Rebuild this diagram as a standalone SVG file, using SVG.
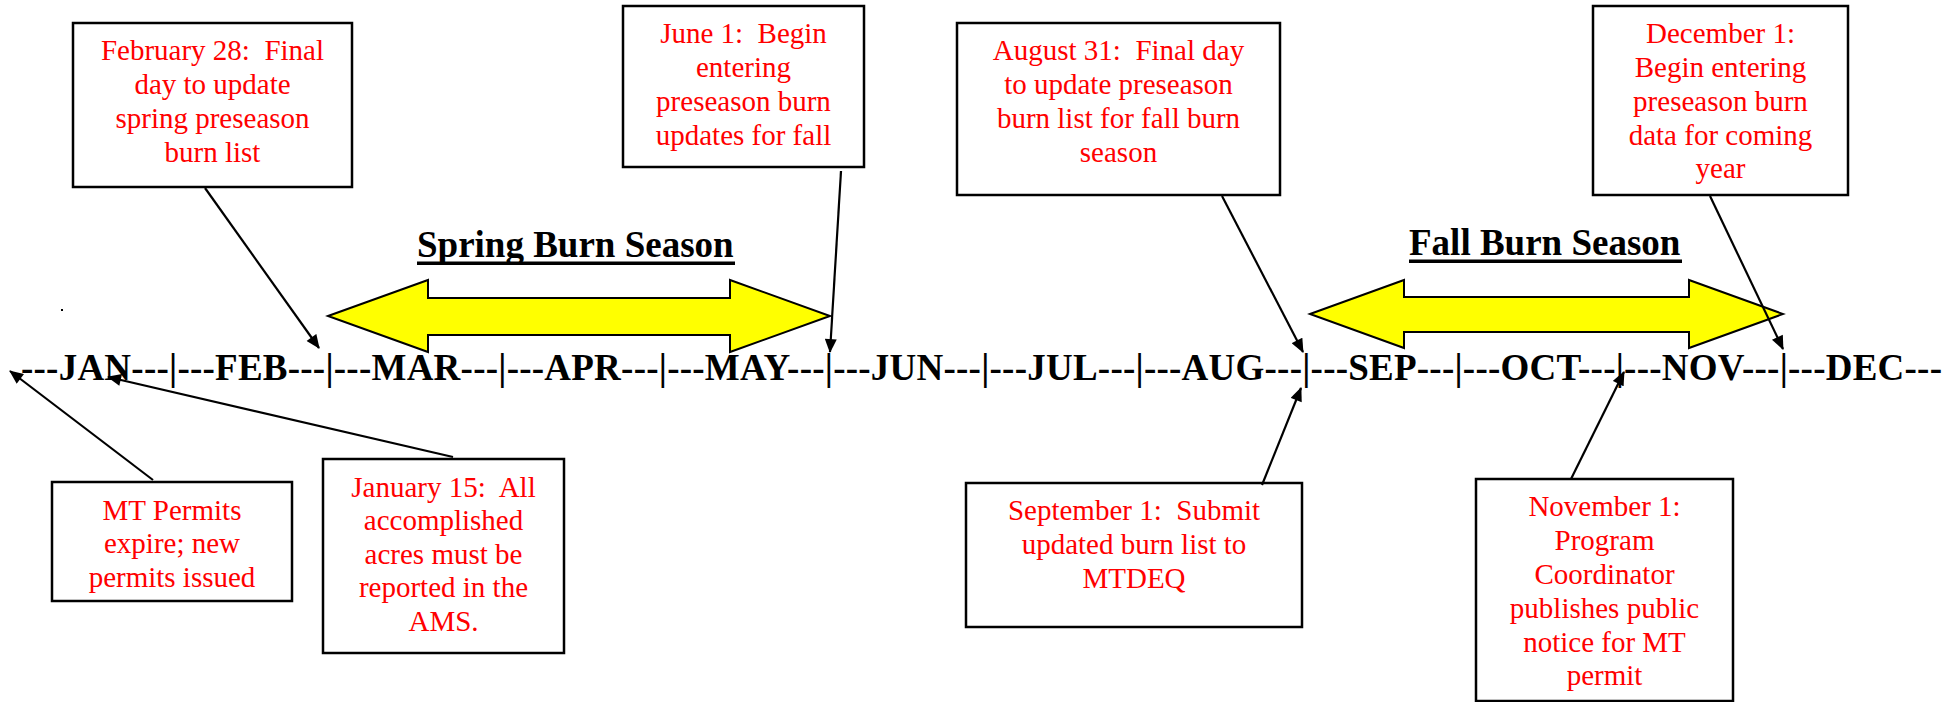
<svg xmlns="http://www.w3.org/2000/svg" width="1954" height="702" viewBox="0 0 1954 702">
  <style>
    .box { fill: #ffffff; stroke: #000000; stroke-width: 2.5; }
    .note { font-family: "Liberation Serif", "Times New Roman", serif; font-size: 29px; fill: #ff0000; text-anchor: middle; }
    .title { font-family: "Liberation Serif", "Times New Roman", serif; font-size: 37px; font-weight: bold; fill: #000000; }
    .season { fill: #ffff00; stroke: #000000; stroke-width: 2; stroke-linejoin: miter; }
    .conn { stroke: #000000; stroke-width: 2.2; fill: none; marker-end: url(#head); }
  </style>
  <defs>
    <marker id="head" viewBox="0 0 14 12" refX="13" refY="6" markerUnits="userSpaceOnUse" markerWidth="15" markerHeight="12" orient="auto">
      <path d="M0,0 L14,6 L0,12 z" fill="#000000"/>
    </marker>
  </defs>

  <rect width="1954" height="702" fill="#ffffff"/>

  <!-- month scale -->
  <text id="timeline" class="title" x="21" y="380" textLength="1921" lengthAdjust="spacing">---JAN---|---FEB---|---MAR---|---APR---|---MAY---|---JUN---|---JUL---|---AUG---|---SEP---|---OCT---|---NOV---|---DEC---</text>
  <rect x="61" y="309" width="2" height="2" fill="#000000"/>

  <!-- season spans -->
  <g id="spring-season">
    <polygon class="season" points="328,316 428,280 428,298 730,298 730,280 830,316 730,352 730,335 428,335 428,352"/>
    <text class="title" x="417" y="257">Spring Burn Season</text>
    <rect x="417" y="261.5" width="318" height="3.5" fill="#000000"/>
  </g>
  <g id="fall-season">
    <polygon class="season" points="1310,314 1404,280 1404,297 1689,297 1689,280 1783,314 1689,348 1689,332 1404,332 1404,348"/>
    <text class="title" x="1409" y="255">Fall Burn Season</text>
    <rect x="1409" y="259.5" width="273" height="3.5" fill="#000000"/>
  </g>

  <!-- milestone boxes -->
  <g id="feb28">
    <rect class="box" x="73" y="23" width="279" height="164"/>
    <text class="note"><tspan x="212.5" y="60">February 28:&#160; Final</tspan><tspan x="212.5" y="94">day to update</tspan><tspan x="212.5" y="128">spring preseason</tspan><tspan x="212.5" y="162">burn list</tspan></text>
  </g>
  <g id="jun1">
    <rect class="box" x="623" y="6" width="241" height="161"/>
    <text class="note"><tspan x="743.5" y="43">June 1:&#160; Begin</tspan><tspan x="743.5" y="77">entering</tspan><tspan x="743.5" y="111">preseason burn</tspan><tspan x="743.5" y="145">updates for fall</tspan></text>
  </g>
  <g id="aug31">
    <rect class="box" x="957" y="23" width="323" height="172"/>
    <text class="note"><tspan x="1118.5" y="60">August 31:&#160; Final day</tspan><tspan x="1118.5" y="94">to update preseason</tspan><tspan x="1118.5" y="128">burn list for fall burn</tspan><tspan x="1118.5" y="162">season</tspan></text>
  </g>
  <g id="dec1">
    <rect class="box" x="1593" y="6" width="255" height="189"/>
    <text class="note"><tspan x="1720.5" y="43">December 1:</tspan><tspan x="1720.5" y="77">Begin entering</tspan><tspan x="1720.5" y="111">preseason burn</tspan><tspan x="1720.5" y="145">data for coming</tspan><tspan x="1720.5" y="178">year</tspan></text>
  </g>
  <g id="jan1">
    <rect class="box" x="52" y="482" width="240" height="119"/>
    <text class="note"><tspan x="172" y="520">MT Permits</tspan><tspan x="172" y="553">expire; new</tspan><tspan x="172" y="587">permits issued</tspan></text>
  </g>
  <g id="jan15">
    <rect class="box" x="323" y="459" width="241" height="194"/>
    <text class="note"><tspan x="443.5" y="497">January 15:&#160; All</tspan><tspan x="443.5" y="530">accomplished</tspan><tspan x="443.5" y="564">acres must be</tspan><tspan x="443.5" y="597">reported in the</tspan><tspan x="443.5" y="631">AMS.</tspan></text>
  </g>
  <g id="sep1">
    <rect class="box" x="966" y="483" width="336" height="144"/>
    <text class="note"><tspan x="1134" y="520">September 1:&#160; Submit</tspan><tspan x="1134" y="554">updated burn list to</tspan><tspan x="1134" y="588">MTDEQ</tspan></text>
  </g>
  <g id="nov1">
    <rect class="box" x="1476" y="479" width="257" height="222"/>
    <text class="note"><tspan x="1604.5" y="516">November 1:</tspan><tspan x="1604.5" y="550">Program</tspan><tspan x="1604.5" y="584">Coordinator</tspan><tspan x="1604.5" y="618">publishes public</tspan><tspan x="1604.5" y="652">notice for MT</tspan><tspan x="1604.5" y="685">permit</tspan></text>
  </g>

  <!-- connectors -->
  <g id="connectors">
    <line class="conn" x1="205" y1="188" x2="319" y2="348"/>
    <line class="conn" x1="841" y1="171" x2="830" y2="352"/>
    <line class="conn" x1="1222" y1="196" x2="1303" y2="352"/>
    <line class="conn" x1="1710" y1="196" x2="1783" y2="349"/>
    <line class="conn" x1="153" y1="480" x2="10" y2="371"/>
    <line class="conn" x1="453" y1="457" x2="108" y2="377"/>
    <line class="conn" x1="1262" y1="485" x2="1301" y2="388"/>
    <line class="conn" x1="1571" y1="479" x2="1624" y2="372"/>
  </g>
</svg>
